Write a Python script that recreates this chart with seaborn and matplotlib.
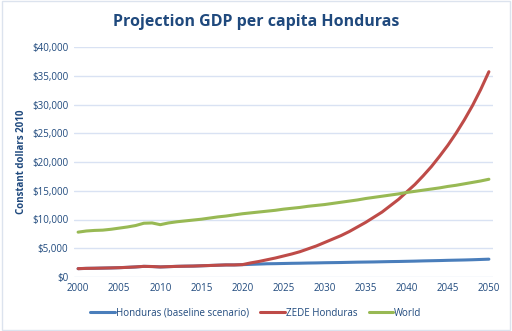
import numpy as np
import pandas as pd
import matplotlib
matplotlib.use("Agg")
import matplotlib.pyplot as plt
import seaborn as sns
from matplotlib.ticker import FuncFormatter, MultipleLocator

years = list(range(2000, 2051))
honduras = [1.45, 1.5, 1.52, 1.55, 1.58, 1.62, 1.68, 1.75, 1.85, 1.82, 1.75,
            1.8, 1.85, 1.88, 1.9, 1.95, 2.0, 2.05, 2.1, 2.1, 2.15,
            2.2, 2.25, 2.3, 2.32, 2.35, 2.38, 2.4, 2.43, 2.45, 2.48,
            2.5, 2.52, 2.55, 2.58, 2.6, 2.62, 2.65, 2.68, 2.7, 2.73,
            2.76, 2.8, 2.83, 2.86, 2.9, 2.93, 2.96, 3.0, 3.05, 3.1]
zede = honduras[:21] + [2.45, 2.7, 3.0, 3.3, 3.65, 4.0, 4.4, 4.9, 5.4, 6.0,
                        6.6, 7.2, 7.9, 8.7, 9.5, 10.4, 11.3, 12.4, 13.5, 14.8,
                        16.1, 17.6, 19.2, 21.0, 22.9, 25.0, 27.3, 29.8, 32.6, 35.7]
world = [7.8, 8.0, 8.1, 8.15, 8.3, 8.5, 8.7, 8.95, 9.35, 9.4, 9.1,
         9.4, 9.6, 9.75, 9.9, 10.05, 10.25, 10.45, 10.6, 10.8, 11.0,
         11.15, 11.3, 11.45, 11.6, 11.8, 11.95, 12.1, 12.3, 12.45, 12.6,
         12.8, 13.0, 13.2, 13.4, 13.65, 13.85, 14.05, 14.25, 14.45, 14.7,
         14.9, 15.1, 15.3, 15.5, 15.75, 15.95, 16.2, 16.45, 16.7, 17.0]
series_names = ["Honduras (baseline scenario)", "ZEDE Honduras", "World"]
colors = ["#4A7EBB", "#BE4B48", "#98B954"]

df = pd.concat([
    pd.DataFrame({"Year": years, "Value": np.array(v) * 1000, "Series": n})
    for n, v in zip(series_names, [honduras, zede, world])
])

sns.set_style("white")
plt.rcParams['font.family'] = ['Open Sans', 'DejaVu Sans']
txt = "#1F497D"

fig = plt.figure(figsize=(5.12, 3.31), dpi=100)
ax = fig.add_axes([74/512, 1-277/331, (493-74)/512, (277-47)/331])
sns.lineplot(data=df, x="Year", y="Value", hue="Series", palette=colors,
             hue_order=series_names, linewidth=2.2, ax=ax, legend=False)

ax.set_xlim(1999.5, 2050.5)
ax.set_ylim(0, 40000)
ax.xaxis.set_major_locator(MultipleLocator(5))
ax.yaxis.set_major_locator(MultipleLocator(5000))
ax.yaxis.set_major_formatter(FuncFormatter(lambda v, p: f"${v:,.0f}"))
ax.grid(axis="y", color="#D9E2F3", linewidth=1)
ax.set_axisbelow(True)
for s in ax.spines.values():
    s.set_visible(False)
ax.tick_params(axis="both", length=0, labelsize=7, labelcolor=txt, pad=4)
ax.set_xlabel("")
ax.set_ylabel("Constant dollars 2010", fontsize=7, fontweight="bold", color=txt, labelpad=4)

fig.text(0.5, 1-22/331, "Projection GDP per capita Honduras", ha="center", va="center",
         fontsize=11.5, fontweight="bold", color=txt)

handles = [plt.Line2D([0], [0], color=c, lw=2.2) for c in colors]
fig.legend(handles, series_names, loc="center", bbox_to_anchor=(0.5, 1-313/331),
           ncol=3, frameon=False, fontsize=7, labelcolor=txt, handlelength=2.5,
           handletextpad=0.1, columnspacing=1.2)

border = plt.Rectangle((0.004, 0.004), 0.992, 0.992, transform=fig.transFigure,
                       fill=False, edgecolor="#DCE3EE", linewidth=1)
fig.patches.append(border)

fig.savefig("out.png", dpi=100)
